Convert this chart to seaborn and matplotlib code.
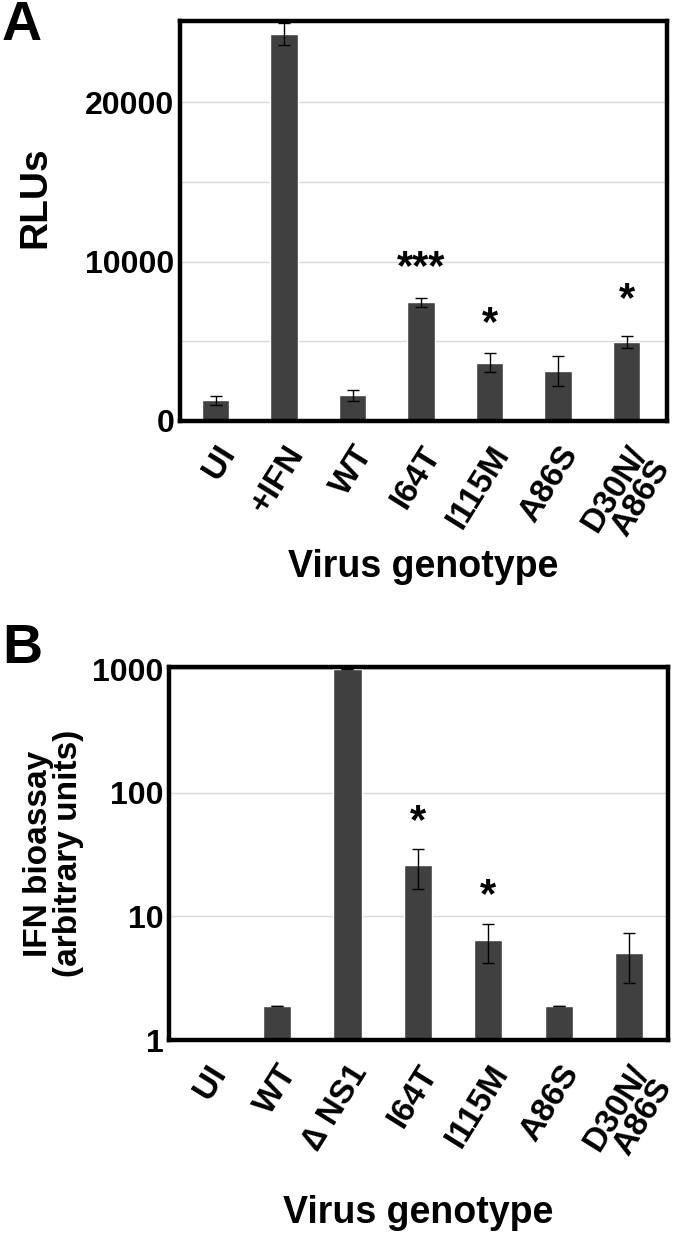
import numpy as np
import pandas as pd
import matplotlib
matplotlib.use("Agg")
import matplotlib.pyplot as plt
import seaborn as sns

# Panel A: luciferase reporter (RLUs)
a_genotypes = ["UI", "+IFN", "WT", "I64T", "I115M", "A86S", "D30N/\nA86S"]
a_rlu = [1300, 24300, 1600, 7450, 3650, 3150, 4950]
a_err = [270, 700, 320, 270, 600, 950, 400]
a_stars = {"I64T": ("***", 9600), "I115M": ("*", 6050), "D30N/\nA86S": ("*", 7600)}

# Panel B: IFN bioassay (log scale)
b_genotypes = ["UI", "WT", "\u2206 NS1", "I64T", "I115M", "A86S", "D30N/\nA86S"]
b_ifn = [1.0, 1.9, 1000, 25.9, 6.5, 1.9, 5.1]
b_err_lo = [0, 0, 0, 9.3, 2.3, 0, 2.2]
b_err_hi = [0, 0, 0, 9.0, 2.2, 0, 2.3]
b_stars = {"I64T": ("*", 58), "I115M": ("*", 14.5)}

sns.set_style("white")
plt.rcParams["font.family"] = ["Liberation Sans", "DejaVu Sans"]
plt.rcParams["font.weight"] = "bold"
for k in ["text.color", "axes.labelcolor", "xtick.color", "ytick.color"]:
    plt.rcParams[k] = "black"

bar_color = "#404040"
grid_color = "#d9d9d9"

fig = plt.figure(figsize=(6.8, 12.33), dpi=100)
ax_a = fig.add_axes([0.2647, 0.6586, 0.7163, 0.3244])
ax_b = fig.add_axes([0.2485, 0.1565, 0.7335, 0.3025])


def style_axes(ax):
    for s in ax.spines.values():
        s.set_linewidth(3.2)
        s.set_color("black")
        s.set_visible(True)
    ax.tick_params(axis="y", length=0, pad=4)
    ax.tick_params(axis="x", length=0, pad=14)
    ax.set_axisbelow(True)


# ---- Panel A
df_a = pd.DataFrame({"genotype": a_genotypes, "rlu": a_rlu})
sns.barplot(data=df_a, x="genotype", y="rlu", color=bar_color, width=0.4,
            saturation=1, ax=ax_a, zorder=2)
ax_a.errorbar(np.arange(len(a_genotypes)), a_rlu, yerr=a_err, fmt="none",
              ecolor="black", elinewidth=1, capsize=4, capthick=1, zorder=3)
ax_a.set_ylim(0, 25100)
ax_a.set_xlim(-0.52, 6.59)
ax_a.set_yticks([0, 10000, 20000])
ax_a.set_yticks([5000, 15000], minor=True)
ax_a.yaxis.grid(True, which="both", color=grid_color, lw=1)
ax_a.tick_params(axis="y", which="both", length=0)
for lab, (txt, y) in a_stars.items():
    ax_a.text(a_genotypes.index(lab), y, txt, ha="center", va="center",
              fontsize=30, fontweight="bold")
style_axes(ax_a)
ax_a.set_ylabel("RLUs", fontsize=28, fontweight="bold")
ax_a.yaxis.set_label_coords(-0.26, 0.56)
ax_a.set_xlabel("Virus genotype", fontsize=27, fontweight="bold")
ax_a.xaxis.set_label_coords(0.5, -0.32)
plt.setp(ax_a.get_yticklabels(), fontsize=23, fontweight="bold")
plt.setp(ax_a.get_xticklabels(), fontsize=24, fontweight="bold",
         rotation=58, ha="right", rotation_mode="anchor", linespacing=0.85)
fig.text(0.003, 1.0, "A", fontsize=40, fontweight="bold", va="top", ha="left")

# ---- Panel B
df_b = pd.DataFrame({"genotype": b_genotypes, "ifn": b_ifn})
sns.barplot(data=df_b, x="genotype", y="ifn", color=bar_color, width=0.4,
            saturation=1, ax=ax_b, zorder=2)
ax_b.set_yscale("log")
ax_b.errorbar(np.arange(len(b_genotypes))[1:], b_ifn[1:],
              yerr=[b_err_lo[1:], b_err_hi[1:]], fmt="none",
              ecolor="black", elinewidth=1, capsize=4, capthick=1, zorder=3)
ax_b.set_ylim(1, 1045)
ax_b.set_xlim(-0.535, 6.55)
ax_b.set_yticks([1, 10, 100, 1000])
ax_b.set_yticklabels(["1", "10", "100", "1000"])
ax_b.minorticks_off()
ax_b.yaxis.grid(True, color=grid_color, lw=1)
for lab, (txt, y) in b_stars.items():
    ax_b.text(b_genotypes.index(lab), y, txt, ha="center", va="center",
              fontsize=30, fontweight="bold")
style_axes(ax_b)
ax_b.set_ylabel("IFN bioassay\n(arbitrary units)", fontsize=24,
                fontweight="bold", linespacing=0.95)
ax_b.yaxis.set_label_coords(-0.17, 0.5)
ax_b.set_xlabel("Virus genotype", fontsize=27, fontweight="bold")
ax_b.xaxis.set_label_coords(0.5, -0.415)
plt.setp(ax_b.get_yticklabels(), fontsize=23, fontweight="bold")
plt.setp(ax_b.get_xticklabels(), fontsize=24, fontweight="bold",
         rotation=58, ha="right", rotation_mode="anchor", linespacing=0.85)
fig.text(0.003, 0.495, "B", fontsize=40, fontweight="bold", va="top", ha="left")

fig.savefig("out.png", dpi=100)
